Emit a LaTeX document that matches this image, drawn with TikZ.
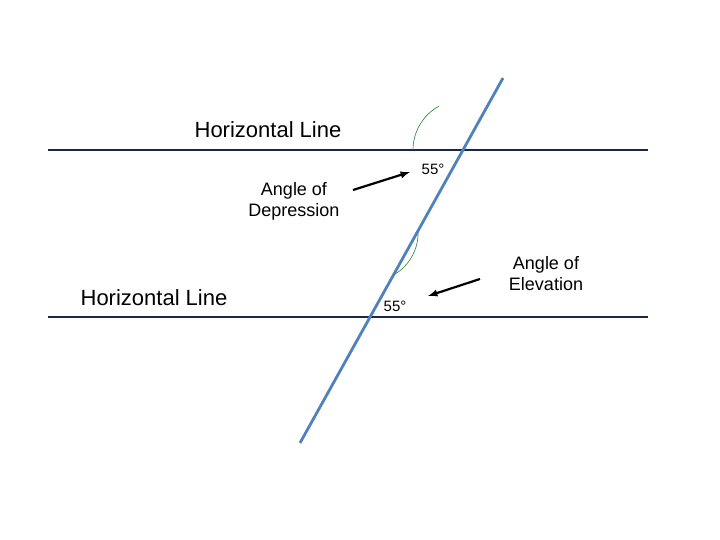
\documentclass[tikz,border=0pt]{standalone}
\usepackage{fontspec}
\setmainfont{Liberation Sans}
\begin{document}
\begin{tikzpicture}[x=1pt,y=-1pt,
  hline/.style={line width=2.6pt,color={rgb,255:red,23;green,40;blue,75}},
  tline/.style={line width=2.8pt,color={rgb,255:red,79;green,129;blue,189}},
  angarc/.style={draw={rgb,255:red,40;green,130;blue,40},line width=0.6pt},
  pointer/.style={-latex,line width=2.2pt,black},
  lbl/.style={font=\fontsize{18}{21}\selectfont,align=center,inner sep=0pt}]
\useasboundingbox (0,0) rectangle (720,540);
\coordinate (h1a) at (48,150); \coordinate (h1b) at (648,150);
\coordinate (h2a) at (48,317); \coordinate (h2b) at (648,317);
\coordinate (ta) at (503,78); \coordinate (tb) at (300,443);
\draw[hline] (h1a) -- (h1b);
\draw[hline] (h2a) -- (h2b);
\draw[tline] (ta) -- (tb);
\coordinate (i1) at (463,150); \coordinate (i2) at (370,317);
\draw[angarc] (i1) ++(-50,0) arc[start angle=180,end angle=240.9,radius=50];
\draw[angarc] (i2) ++(23.4,-42) arc[start angle=60.9,end angle=0,radius=48];
\node[lbl,font=\fontsize{22}{26}\selectfont] (t1) at (268,130) {Horizontal Line};
\node[lbl,font=\fontsize{22}{26}\selectfont] (t2) at (154,298) {Horizontal Line};
\node[lbl] (dep) at (294,201) {Angle of\\Depression};
\node[lbl] (elv) at (546,274) {Angle of\\Elevation};
\node[lbl,font=\fontsize{15}{18}\selectfont] (a1) at (433,169) {55°};
\node[lbl,font=\fontsize{15}{18}\selectfont] (a2) at (395,306) {55°};
\coordinate (p1s) at (353,190); \coordinate (p1e) at (410,172);
\coordinate (p2s) at (480,279); \coordinate (p2e) at (428,296);
\draw[pointer] (p1s) -- (p1e);
\draw[pointer] (p2s) -- (p2e);
\end{tikzpicture}
\end{document}
